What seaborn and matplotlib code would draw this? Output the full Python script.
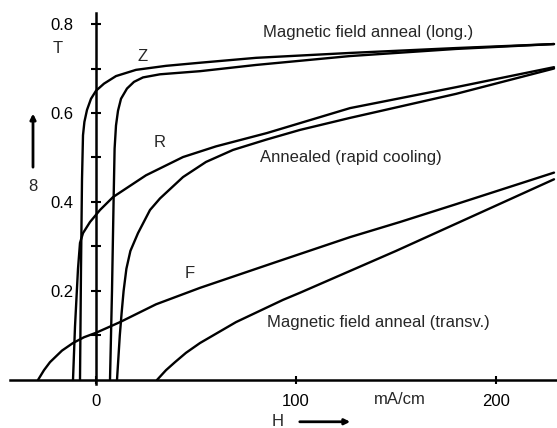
import pandas as pd
import matplotlib.pyplot as plt
import seaborn as sns

# B-H loops, H in mA/cm, B in T
z_down_h = [229, 180, 127, 80, 52, 35, 20, 10, 4, 0, -2.5, -4.5, -5.8, -6.5, -7, -7.5, -8]
z_down_b = [0.755, 0.746, 0.735, 0.724, 0.713, 0.706, 0.697, 0.683, 0.666, 0.650,
            0.632, 0.607, 0.580, 0.550, 0.450, 0.250, 0.0]
z_up_h = [7, 8, 8.8, 9.3, 10, 11, 12.5, 15.5, 19, 23.5, 32, 52, 80, 127, 180, 229]
z_up_b = [0.0, 0.200, 0.404, 0.520, 0.572, 0.605, 0.632, 0.655, 0.670, 0.680,
          0.687, 0.694, 0.708, 0.728, 0.744, 0.755]

r_down_h = [229, 180, 127, 85.5, 60, 43.5, 25, 8.5, 2, -3, -6.5, -8, -9, -10.5, -11.5]
r_down_b = [0.703, 0.658, 0.611, 0.555, 0.525, 0.501, 0.460, 0.411, 0.382, 0.355,
            0.330, 0.308, 0.250, 0.120, 0.0]
r_up_h = [10.5, 11.2, 11.9, 12.8, 13.8, 15.2, 17.2, 21, 27, 32, 43.5, 55, 68.5,
          85, 102, 127, 180, 229]
r_up_b = [0.0, 0.050, 0.100, 0.150, 0.200, 0.250, 0.290, 0.330, 0.382, 0.408, 0.456,
          0.490, 0.517, 0.540, 0.562, 0.589, 0.643, 0.700]

f_down_h = [229, 180, 152, 127, 90, 52, 30, 12, 0, -6, -11.5, -17, -23, -26, -29]
f_down_b = [0.466, 0.395, 0.355, 0.321, 0.265, 0.207, 0.170, 0.130, 0.106, 0.096,
            0.083, 0.066, 0.040, 0.022, 0.0]
f_up_h = [30.5, 35, 39.5, 45, 52, 70, 93.5, 102, 150, 229]
f_up_b = [0.0, 0.022, 0.040, 0.061, 0.083, 0.130, 0.180, 0.196, 0.290, 0.451]

branches = [
    (z_down_h, z_down_b), (z_up_h, z_up_b),
    (r_down_h, r_down_b), (r_up_h, r_up_b),
    (f_down_h, f_down_b), (f_up_h, f_up_b),
]

sns.set_style("white")
plt.rcParams['font.family'] = ['Liberation Sans', 'DejaVu Sans']
fs = 12

fig = plt.figure(figsize=(5.57, 4.28), dpi=100)
ax = fig.add_axes([0, 0, 1, 1])

for h, b in branches:
    df = pd.DataFrame({'H': h, 'B': b})
    sns.lineplot(x='H', y='B', data=df, sort=False, estimator=None,
                 color='black', linewidth=1.7, ax=ax)

ax.set_xlim(-48, 230.5)
ax.set_ylim(-0.108, 0.854)
ax.set_xlabel('')
ax.set_ylabel('')

for s in ['top', 'right']:
    ax.spines[s].set_visible(False)
ax.spines['left'].set_position(('data', 0))
ax.spines['bottom'].set_position(('data', 0))
ax.spines['left'].set_bounds(-0.01, 0.825)
ax.spines['bottom'].set_bounds(-43, 230)
for s in ['left', 'bottom']:
    ax.spines[s].set_linewidth(1.8)
    ax.spines[s].set_color('black')

ax.set_xticks([0, 100, 200])
ax.set_xticklabels(['0', '100', '200'], fontsize=fs)
ax.set_yticks([0.2, 0.4, 0.6, 0.8])
ax.set_yticklabels(['0.2', '0.4', '0.6', '0.8'], fontsize=fs)
ax.set_yticks([0.1, 0.3, 0.5, 0.7], minor=True)
ax.tick_params(axis='x', bottom=True, direction='inout', length=6, width=1.5,
               pad=7, colors='black')
ax.tick_params(axis='y', which='both', left=True, direction='inout', length=7,
               width=1.5, pad=13, colors='black')

ax.text(-19, 0.745, 'T', fontsize=fs, ha='center', va='center')
ax.text(-31.5, 0.434, '8', fontsize=fs, ha='center', va='center')
ax.annotate('', xy=(-31.5, 0.605), xytext=(-31.5, 0.472),
            arrowprops=dict(arrowstyle='-|>', color='black', lw=2, mutation_scale=8))

ax.text(152, -0.045, 'mA/cm', fontsize=fs, ha='center', va='center')
ax.text(91, -0.094, 'H', fontsize=fs, ha='center', va='center')
ax.annotate('', xy=(128.5, -0.094), xytext=(100.5, -0.094),
            arrowprops=dict(arrowstyle='-|>', color='black', lw=2, mutation_scale=8))

ax.text(23.5, 0.726, 'Z', fontsize=fs, ha='center', va='center')
ax.text(32, 0.533, 'R', fontsize=fs, ha='center', va='center')
ax.text(47, 0.24, 'F', fontsize=fs, ha='center', va='center')

ax.text(83.5, 0.78, 'Magnetic field anneal (long.)', fontsize=fs, ha='left', va='center')
ax.text(82, 0.501, 'Annealed (rapid cooling)', fontsize=fs, ha='left', va='center')
ax.text(85.5, 0.13, 'Magnetic field anneal (transv.)', fontsize=fs, ha='left', va='center')

plt.savefig('out.png', dpi=100)
